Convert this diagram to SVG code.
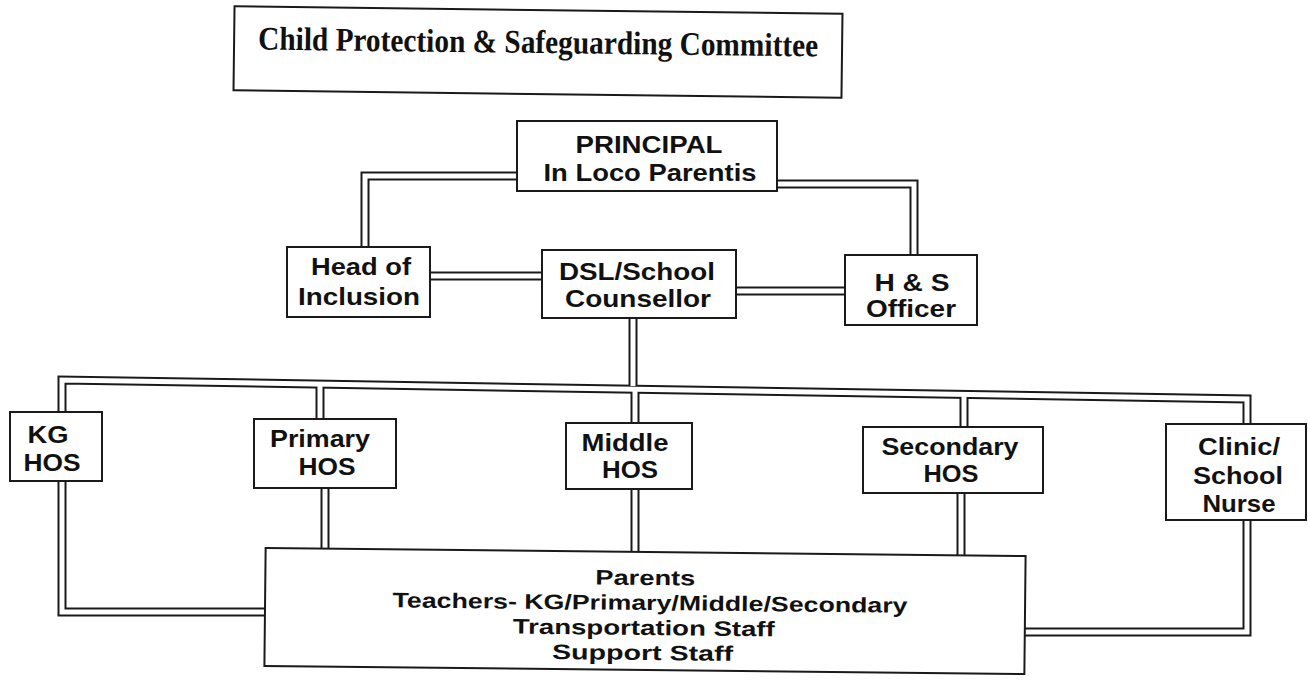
<svg xmlns="http://www.w3.org/2000/svg" width="1308" height="683" viewBox="0 0 1308 683">
<style>
.box{fill:#fff;stroke:#1a1a1a;stroke-width:2}
.t{font-family:"Liberation Sans",Arial,sans-serif;font-weight:bold;font-size:24px;fill:#111;text-anchor:middle}
.p{font-size:21px}
.title{font-family:"Liberation Serif","Times New Roman",serif;font-weight:bold;font-size:33px;fill:#111;text-anchor:middle}
.outer{fill:none;stroke:#1a1a1a;stroke-width:9;stroke-linejoin:miter;stroke-linecap:butt}
.inner{fill:none;stroke:#fff;stroke-width:5;stroke-linejoin:miter;stroke-linecap:butt}
</style>
<rect width="1308" height="683" fill="#fff"/>
<g id="connectors">
<g class="outer">
<path d="M517 176 H365 V247"/>
<path d="M777 184 H914 V255"/>
<path d="M430 276 H542"/>
<path d="M736 291 H845"/>
<path d="M633 318 V386"/>
<path d="M62 412 V380 L1247 399 V424"/>
<path d="M320 384 V419"/>
<path d="M635 389 V423"/>
<path d="M964 394 V427"/>
<path d="M62 481 V612 H265"/>
<path d="M325 488 V553"/>
<path d="M635 489 V553"/>
<path d="M961 493 V560"/>
<path d="M1247 520 V632 H1025"/>
</g>
<g class="inner">
<path d="M517 176 H365 V247"/>
<path d="M777 184 H914 V255"/>
<path d="M430 276 H542"/>
<path d="M736 291 H845"/>
<path d="M633 318 V386"/>
<path d="M62 412 V380 L1247 399 V424"/>
<path d="M320 384 V419"/>
<path d="M635 389 V423"/>
<path d="M964 394 V427"/>
<path d="M62 481 V612 H265"/>
<path d="M325 488 V553"/>
<path d="M635 489 V553"/>
<path d="M961 493 V560"/>
<path d="M1247 520 V632 H1025"/>
</g>
</g>
<g id="title" transform="rotate(0.7 538 52)">
<rect class="box" x="234" y="10" width="608" height="84"/>
<text class="title" x="538" y="53" textLength="560" lengthAdjust="spacingAndGlyphs">Child Protection &amp; Safeguarding Committee</text>
</g>
<g id="principal">
<rect class="box" x="517" y="121" width="260" height="70"/>
<text class="t" x="649" y="153" textLength="147" lengthAdjust="spacingAndGlyphs">PRINCIPAL</text>
<text class="t" x="650" y="181" textLength="213" lengthAdjust="spacingAndGlyphs">In Loco Parentis</text>
</g>
<g id="head-of-inclusion">
<rect class="box" x="287" y="247" width="143" height="70"/>
<text class="t" x="361" y="275" textLength="100" lengthAdjust="spacingAndGlyphs">Head of</text>
<text class="t" x="359" y="305" textLength="122" lengthAdjust="spacingAndGlyphs">Inclusion</text>
</g>
<g id="dsl">
<rect class="box" x="542" y="250" width="194" height="68"/>
<text class="t" x="637" y="280" textLength="156" lengthAdjust="spacingAndGlyphs">DSL/School</text>
<text class="t" x="638" y="307" textLength="146" lengthAdjust="spacingAndGlyphs">Counsellor</text>
</g>
<g id="hs-officer">
<rect class="box" x="845" y="255" width="132" height="70"/>
<text class="t" x="912" y="291" textLength="75" lengthAdjust="spacingAndGlyphs">H &amp; S</text>
<text class="t" x="911" y="317" textLength="90" lengthAdjust="spacingAndGlyphs">Officer</text>
</g>
<g id="kg-hos">
<rect class="box" x="10" y="412" width="92" height="69"/>
<text class="t" x="48" y="443" textLength="41" lengthAdjust="spacingAndGlyphs">KG</text>
<text class="t" x="52" y="471" textLength="57" lengthAdjust="spacingAndGlyphs">HOS</text>
</g>
<g id="primary-hos">
<rect class="box" x="254" y="419" width="142" height="69"/>
<text class="t" x="320" y="447" textLength="100" lengthAdjust="spacingAndGlyphs">Primary</text>
<text class="t" x="327" y="475" textLength="57" lengthAdjust="spacingAndGlyphs">HOS</text>
</g>
<g id="middle-hos">
<rect class="box" x="566" y="423" width="126" height="66"/>
<text class="t" x="625" y="451" textLength="87" lengthAdjust="spacingAndGlyphs">Middle</text>
<text class="t" x="630" y="478" textLength="56" lengthAdjust="spacingAndGlyphs">HOS</text>
</g>
<g id="secondary-hos">
<rect class="box" x="863" y="427" width="180" height="66"/>
<text class="t" x="950" y="455" textLength="137" lengthAdjust="spacingAndGlyphs">Secondary</text>
<text class="t" x="951" y="482" textLength="55" lengthAdjust="spacingAndGlyphs">HOS</text>
</g>
<g id="clinic">
<rect class="box" x="1166" y="424" width="140" height="96"/>
<text class="t" x="1239" y="455" textLength="82" lengthAdjust="spacingAndGlyphs">Clinic/</text>
<text class="t" x="1238" y="484" textLength="90" lengthAdjust="spacingAndGlyphs">School</text>
<text class="t" x="1239" y="512" textLength="73" lengthAdjust="spacingAndGlyphs">Nurse</text>
</g>
<g id="parents" transform="rotate(0.6 645 611)">
<rect class="box" x="265" y="552" width="760" height="118"/>
<text class="t p" x="645" y="585" textLength="100" lengthAdjust="spacingAndGlyphs">Parents</text>
<text class="t p" x="650" y="610" textLength="515" lengthAdjust="spacingAndGlyphs">Teachers- KG/Primary/Middle/Secondary</text>
<text class="t p" x="644" y="635" textLength="262" lengthAdjust="spacingAndGlyphs">Transportation Staff</text>
<text class="t p" x="643" y="660" textLength="181" lengthAdjust="spacingAndGlyphs">Support Staff</text>
</g>
</svg>
